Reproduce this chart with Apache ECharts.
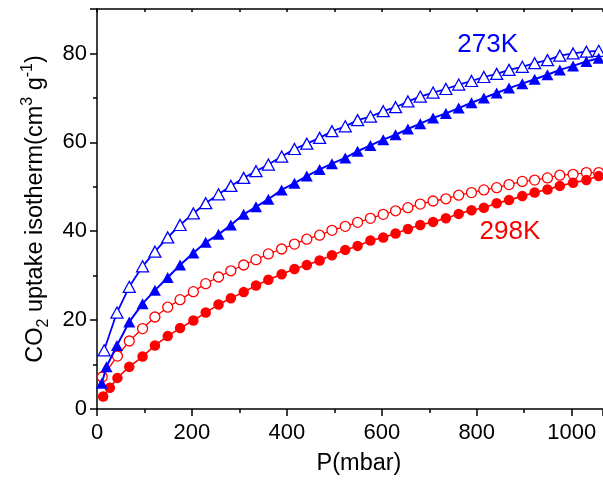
<!DOCTYPE html>
<html>
<head>
<meta charset="utf-8">
<script src="https://cdn.jsdelivr.net/npm/echarts@6/dist/echarts.min.js"></script>
<style>
html,body{margin:0;padding:0;background:#fff;}
#chart{width:603px;height:481px;}
</style>
</head>
<body>
<div id="chart"></div>
<script>
// ---- data ----
const pOpen273 = [15, 42, 68, 96, 122, 149, 175, 203, 229, 256, 282, 309, 335, 361, 389, 416, 442, 469, 495, 523, 549, 576, 603, 629, 655, 681, 708, 735, 762, 789, 815, 842, 868, 896, 922, 949, 975, 1003, 1031, 1057];
const vOpen273 = [13.2, 21.7, 27.5, 32.1, 35.4, 38.6, 41.4, 44.0, 46.3, 48.3, 50.2, 52.0, 53.5, 55.0, 56.8, 58.5, 59.7, 61.0, 62.5, 63.6, 65.0, 65.8, 67.0, 67.9, 69.2, 70.3, 71.2, 72.0, 73.0, 73.8, 74.7, 75.4, 76.3, 77.0, 77.8, 78.5, 79.5, 80.0, 80.4, 80.6];

const pFill273 = [10, 20, 42, 68, 96, 122, 149, 175, 203, 229, 256, 282, 309, 335, 361, 389, 416, 442, 469, 495, 523, 549, 576, 603, 629, 655, 681, 708, 735, 762, 789, 815, 842, 868, 896, 922, 949, 975, 1003, 1031, 1057];
const vFill273 = [5.8, 9.5, 14.3, 19.6, 23.7, 26.7, 29.6, 32.4, 35.1, 37.5, 39.3, 41.4, 43.8, 45.5, 47.2, 49.3, 50.8, 52.4, 53.9, 55.2, 56.5, 58.0, 59.3, 60.6, 61.7, 63.0, 64.2, 65.5, 66.5, 67.7, 68.9, 70.0, 71.1, 72.2, 73.2, 74.2, 75.2, 76.3, 77.2, 78.2, 78.9];

const pOpen298 = [11, 43, 68, 96, 122, 149, 175, 203, 229, 256, 282, 309, 335, 361, 389, 416, 442, 469, 495, 523, 549, 576, 603, 629, 655, 681, 708, 735, 762, 789, 815, 842, 868, 896, 922, 949, 975, 1003, 1031, 1057];
const vOpen298 = [7.2, 11.9, 15.3, 18.1, 20.7, 22.9, 24.6, 26.4, 28.2, 29.7, 31.1, 32.4, 33.6, 34.9, 36.0, 37.1, 38.2, 39.1, 40.2, 41.1, 42.0, 42.9, 43.8, 44.6, 45.3, 46.1, 46.8, 47.3, 48.1, 48.7, 49.3, 49.8, 50.5, 51.2, 51.5, 52.0, 52.6, 52.8, 53.2, 53.2];

const pFill298 = [13, 27, 43, 68, 96, 122, 149, 175, 203, 229, 256, 282, 309, 335, 361, 389, 416, 442, 469, 495, 523, 549, 576, 603, 629, 655, 681, 708, 735, 762, 789, 815, 842, 868, 896, 922, 949, 975, 1003, 1031, 1057];
const vFill298 = [2.8, 4.8, 7.0, 9.5, 11.8, 14.3, 16.4, 18.2, 19.9, 21.7, 23.5, 24.9, 26.3, 27.8, 29.1, 30.3, 31.5, 32.4, 33.4, 34.6, 35.8, 36.7, 37.9, 38.6, 39.5, 40.5, 41.4, 42.1, 42.9, 43.9, 44.7, 45.3, 46.3, 47.0, 47.9, 48.7, 49.4, 50.2, 50.9, 51.5, 52.4];

const xTicks = [0, 200, 400, 600, 800, 1000];
const yTicks = [0, 20, 40, 60, 80];
const labels = [{text: '273K', x: 823, y: 81.9, color: '#0000ff'}, {text: '298K', x: 870, y: 39.8, color: '#ff0000'}];

const BLUE = '#0000ff', RED = '#ff0000';
const FONT = '"Liberation Sans", Arial, sans-serif';
const zip = (a, b) => a.map((v, i) => [v, b[i]]);

const chart = echarts.init(document.getElementById('chart'), null, {renderer: 'canvas'});

const option = {
  animation: false,
  backgroundColor: '#fff',
  grid: {left: 97, top: 9, right: 0, bottom: 70, containLabel: false},
  xAxis: [{
    type: 'value', min: 0, max: 1066, interval: 100, position: 'bottom',
    axisLine: {show: true, onZero: false, lineStyle: {color: '#000', width: 1.5}},
    axisTick: {show: true, inside: false, length: 4, lineStyle: {color: '#000', width: 1.5}},
    splitLine: {show: false},
    axisLabel: {fontFamily: FONT, fontSize: 22, color: '#000', margin: 13, showMaxLabel: false,
      formatter: v => xTicks.includes(v) ? String(v) : ''},
    name: 'P(mbar)', nameLocation: 'middle', nameGap: 43,
    nameTextStyle: {fontFamily: FONT, fontSize: 23.5, color: '#000', padding: [0, 0, 0, 18]}
  }, {
    type: 'value', min: 0, max: 1066, interval: 200, position: 'bottom',
    axisLine: {show: false},
    axisTick: {show: true, inside: false, length: 7, lineStyle: {color: '#000', width: 1.5}},
    axisLabel: {show: false}, splitLine: {show: false}
  }, {
    type: 'value', min: 0, max: 1066, interval: 100, position: 'top',
    axisLine: {show: true, onZero: false, lineStyle: {color: '#000', width: 1.5}},
    axisTick: {show: true, inside: true, length: 3, lineStyle: {color: '#000', width: 1.5}},
    axisLabel: {show: false}, splitLine: {show: false}
  }],
  yAxis: [{
    type: 'value', min: 0, max: 90, interval: 10, position: 'left',
    axisLine: {show: true, onZero: false, lineStyle: {color: '#000', width: 1.5}},
    axisTick: {show: true, inside: false, length: 4, lineStyle: {color: '#000', width: 1.5}},
    splitLine: {show: false},
    axisLabel: {fontFamily: FONT, fontSize: 22, color: '#000', margin: 10, showMaxLabel: false,
      formatter: v => yTicks.includes(v) ? String(v) : ''},
    name: '{a|CO}{s|2}{a| uptake isotherm(cm}{p|3}{a| g}{p|-1}{a|)}',
    nameLocation: 'middle', nameGap: 45, nameRotate: 90,
    nameTextStyle: {
      fontFamily: FONT, fontSize: 23.5, color: '#000',
      rich: {
        a: {fontFamily: FONT, fontSize: 23.5, color: '#000', lineHeight: 32, verticalAlign: 'middle'},
        s: {fontFamily: FONT, fontSize: 16, color: '#000', lineHeight: 16, verticalAlign: 'bottom'},
        p: {fontFamily: FONT, fontSize: 16, color: '#000', lineHeight: 16, verticalAlign: 'top'}
      }
    }
  }, {
    type: 'value', min: 0, max: 90, interval: 20, position: 'left',
    axisLine: {show: false},
    axisTick: {show: true, inside: false, length: 7, lineStyle: {color: '#000', width: 1.5}},
    axisLabel: {show: false}, splitLine: {show: false}
  }],
  series: [
    {
      name: '273K open', type: 'line', data: zip(pOpen273, vOpen273),
      symbol: 'triangle', symbolSize: [12, 11],
      lineStyle: {color: BLUE, width: 1.8},
      itemStyle: {color: '#fff', borderColor: BLUE, borderWidth: 1.3},
      z: 3
    },
    {
      name: '273K filled', type: 'line', data: zip(pFill273, vFill273),
      symbol: 'triangle', symbolSize: [12, 11],
      lineStyle: {color: BLUE, width: 2},
      itemStyle: {color: BLUE, borderColor: BLUE, borderWidth: 0},
      z: 3
    },
    {
      name: '298K open', type: 'line', data: zip(pOpen298, vOpen298),
      symbol: 'circle', symbolSize: 10,
      lineStyle: {color: RED, width: 1.3},
      itemStyle: {color: '#fff', borderColor: RED, borderWidth: 1.3},
      z: 2
    },
    {
      name: '298K filled', type: 'line', data: zip(pFill298, vFill298),
      symbol: 'circle', symbolSize: 10.5,
      lineStyle: {color: RED, width: 1.6},
      itemStyle: {color: RED, borderColor: RED, borderWidth: 0},
      z: 2
    }
  ]
};
chart.setOption(option);

const g = labels.map(l => {
  const pt = chart.convertToPixel({gridIndex: 0}, [l.x, l.y]);
  return {
    type: 'text', x: pt[0], y: pt[1], z: 10,
    style: {text: l.text, fill: l.color, font: '26px ' + FONT, textAlign: 'center', textVerticalAlign: 'middle'}
  };
});
chart.setOption({graphic: g});
</script>
</body>
</html>
